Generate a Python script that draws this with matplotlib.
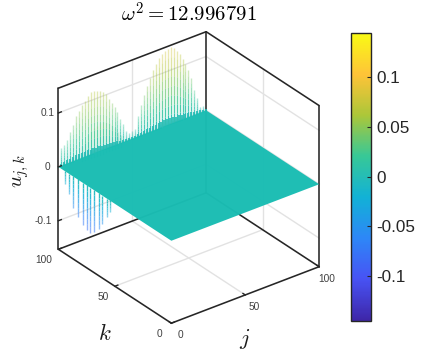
import matplotlib
matplotlib.use("Agg")
import matplotlib.pyplot as plt
import numpy as np
from matplotlib.colors import LinearSegmentedColormap, Normalize
from matplotlib.cm import ScalarMappable
from mpl_toolkits.mplot3d import proj3d
from mpl_toolkits.mplot3d.art3d import Line3DCollection

plt.rcParams['font.family'] = ['Liberation Sans', 'DejaVu Sans']
plt.rcParams['mathtext.fontset'] = 'cm'

# spikes on the far edge (k = 100)
back_j = [2, 4, 6, 8, 10, 12, 14, 16, 18, 20, 22, 24, 26, 28, 30, 32, 34, 36, 38, 40, 42, 44, 46,
          48, 50, 52,
          54, 56, 58, 60, 62, 64, 66, 68, 70, 72, 74, 76, 78, 80, 82, 84, 86, 88, 90, 92, 94, 96, 98]
back_u = [.033, .037, .044, .057, .068, .081, .089, .098, .104, .111, .115, .115, .114, .111, .108,
          .101, .091, .081, .071, .059, .045, .033, .018,
          .012, .014, .016,
          .038, .056, .073, .088, .100, .112, .122, .131, .137, .140, .142, .142, .139, .132, .123,
          .112, .100, .088, .071, .046, .029, .011, .010]

# fainter row just behind the first one
inner_j = [13, 15, 17, 19, 21, 23, 25, 27, 29, 31, 33, 35, 37, 39]
inner_u = [.030, .038, .046, .052, .056, .058, .060, .060, .058, .054, .048, .040, .032, .024]

# short teal fuzz along the far edge
fuzz_j = [1, 3, 5, 7, 9, 11, 13, 15, 17, 19, 21, 23, 25, 27, 29, 31, 33, 35, 37, 39, 41, 43, 45, 47,
          49, 51, 53, 55, 57, 59, 61, 63, 65, 67, 69, 71, 73, 75, 77, 79, 81, 83, 85, 87, 89, 91, 93,
          95, 97, 99]
fuzz_u = [.005, .007, .008, .009, .010, .011, .011, .012, .012, .012, .011, .012, .011, .011, .010,
          .010, .009, .009, .008, .008, .007, .007, .006, .006, .006, .006, .006, .007, .008, .009,
          .010, .011, .011, .012, .012, .013, .013, .013, .013, .012, .012, .011, .010, .010, .009,
          .008, .008, .007, .006, .005]

# downward spikes on the near edge (j = 0)
front_k = [94, 90.5, 87, 83, 78.5, 75, 72, 68.5, 64, 61, 57, 54.5]
front_u = [-.023, -.038, -.058, -.070, -.078, -.083, -.084, -.077, -.066, -.053, -.034, -.021]

grid_j = [0, 100]
grid_k = [0, 100]
j_ticks = [0, 50, 100]
k_ticks = [0, 50, 100]
z_ticks = [-0.1, 0, 0.1]
z_tick_labels = ['-0.1', '0', '0.1']
cbar_ticks = [-0.1, -0.05, 0, 0.05, 0.1]
cbar_labels = ['-0.1', '-0.05', '0', '0.05', '0.1']
zmin, zmax = -0.153, 0.146
clim = 0.1445

parula = LinearSegmentedColormap.from_list('parula', [
    (0.2422, 0.1504, 0.6603), (0.2810, 0.3228, 0.9579), (0.1786, 0.5289, 0.9682),
    (0.0689, 0.6948, 0.8394), (0.2161, 0.7843, 0.5923), (0.6720, 0.7793, 0.2227),
    (0.9970, 0.7659, 0.2199), (0.9769, 0.9839, 0.0805)])
norm = Normalize(-clim, clim)

W, H = 425, 360
dark = '#262626'
light = '#e2e2e2'
plane_color = '#1abdb3'


def spikes(ax, xs, ys, us, z0, lw=1.0, alpha=0.95, fade=0.6, tint=0.6):
    # each spike is cut in pieces, so the colour follows the height and the tip fades
    segs, cols = [], []
    for x, y, u in zip(xs, ys, us):
        parts = np.linspace(0, u, 9)
        for n in range(8):
            segs.append([(x, y, parts[n]), (x, y, parts[n + 1])])
            c = list(parula(norm((parts[n] + parts[n + 1]) / 2 * tint)))
            c[3] = alpha * (1 - fade * n / 7)
            cols.append(c)
    ax.add_collection3d(Line3DCollection(segs, colors=cols, linewidths=lw, zorder=z0))


fig = plt.figure(figsize=(W / 100, H / 100), dpi=100)
ax = fig.add_axes([34.7 / W, 28.5 / H, 300 / W, 300 / H], projection='3d', computed_zorder=False)
ax.set_proj_type('ortho')
ax.view_init(elev=30, azim=232.6)
ax.set_box_aspect((1, 1, 1), zoom=1.0426)
ax.set_xlim(0, 100)
ax.set_ylim(0, 100)
ax.set_zlim(zmin, zmax)
ax.set_axis_off()
ax.patch.set_alpha(0)

# grid lines on the walls and the floor
for t in [50]:
    ax.plot([t, t], [100, 100], [zmin, zmax], color=light, lw=1, zorder=1)
    ax.plot([100, 100], [t, t], [zmin, zmax], color=light, lw=1, zorder=1)
    ax.plot([t, t], [0, 100], [zmin, zmin], color=light, lw=1, zorder=1)
    ax.plot([0, 100], [t, t], [zmin, zmin], color=light, lw=1, zorder=1)
for z in z_ticks:
    ax.plot([0, 100], [100, 100], [z, z], color=light, lw=1, zorder=1)
    ax.plot([100, 100], [0, 100], [z, z], color=light, lw=1, zorder=1)

# box
box_lines = [([0, 100], [0, 0], [zmin, zmin]), ([0, 0], [0, 100], [zmin, zmin]),
             ([0, 100], [100, 100], [zmin, zmin]), ([100, 100], [0, 100], [zmin, zmin]),
             ([0, 100], [100, 100], [zmax, zmax]), ([100, 100], [0, 100], [zmax, zmax]),
             ([0, 0], [100, 100], [zmin, zmax]), ([100, 100], [100, 100], [zmin, zmax]),
             ([100, 100], [0, 0], [zmin, zmax])]
for xs, ys, zs in box_lines:
    ax.plot(xs, ys, zs, color=dark, lw=1.15, zorder=2, solid_capstyle='round')

spikes(ax, inner_j, [96] * len(inner_j), inner_u, 3, alpha=0.5, tint=1.4)
spikes(ax, back_j, [100] * len(back_j), back_u, 3.5)
spikes(ax, fuzz_j, [99] * len(fuzz_j), fuzz_u, 3.6, lw=1.5, fade=0.1, tint=0.0)
spikes(ax, [0] * len(front_k), front_k, front_u, 3, alpha=0.95, fade=0.45, tint=1.0)

# the rest of the surface is flat
jj, kk = np.meshgrid(grid_j, grid_k)
ax.plot_surface(jj, kk, np.zeros_like(jj, dtype=float), color=plane_color, shade=False,
                linewidth=0, antialiased=True, alpha=0.98, zorder=4)

# ticks
for t in j_ticks:
    ax.plot([t, t], [0, 2], [zmin, zmin], color=dark, lw=1, zorder=5)
for t in k_ticks:
    ax.plot([0, 2], [t, t], [zmin, zmin], color=dark, lw=1, zorder=5)
for z in z_ticks:
    ax.plot([0, 2], [100, 100], [z, z], color=dark, lw=1, zorder=5)

M = ax.get_proj()


def label3d(x, y, z, text, dx, dy, **kw):
    px, py, _ = proj3d.proj_transform(x, y, z, M)
    ax.annotate(text, xy=(px, py), xytext=(dx, dy), textcoords='offset pixels',
                ha='center', va='center', annotation_clip=False, **kw)


tick_style = dict(fontsize=7.3, color='#404040')
for t in j_ticks:
    label3d(t, 0, zmin, str(t), 9 if t < 100 else 8, -12, **tick_style)
for t in k_ticks:
    label3d(0, t, zmin, str(t), -12 if t < 100 else -15, -11, **tick_style)
for z, s in zip(z_ticks, z_tick_labels):
    label3d(0, 100, z, s, -11 if s != '-0.1' else -15, 0, **tick_style)

fig.text(188.5 / W, 1 - 14 / H, r'$\omega^2 = 12.996791$', fontsize=15, ha='center', va='center',
         color='black')
fig.text(21 / W, 1 - 171 / H, r'$u_{j,k}$', fontsize=15, rotation=90, ha='center', va='center',
         color='#1a1a1a')
fig.text(104.5 / W, 1 - 333 / H, r'$k$', fontsize=16.5, ha='center', va='center', color='#1a1a1a')
fig.text(245 / W, 1 - 339 / H, r'$j$', fontsize=16.5, ha='center', va='center', color='#1a1a1a')

cax = fig.add_axes([351 / W, 1 - 320.5 / H, 20 / W, 287.5 / H])
cb = fig.colorbar(ScalarMappable(norm=norm, cmap=parula), cax=cax)
cb.set_ticks(cbar_ticks)
cb.set_ticklabels(cbar_labels)
cb.ax.tick_params(direction='in', length=3, width=0.8, labelsize=12.3, color=dark,
                  labelcolor='#262626', pad=4)
cb.outline.set_edgecolor(dark)
cb.outline.set_linewidth(1)
cb.minorticks_off()

fig.savefig('out.png', dpi=100)
